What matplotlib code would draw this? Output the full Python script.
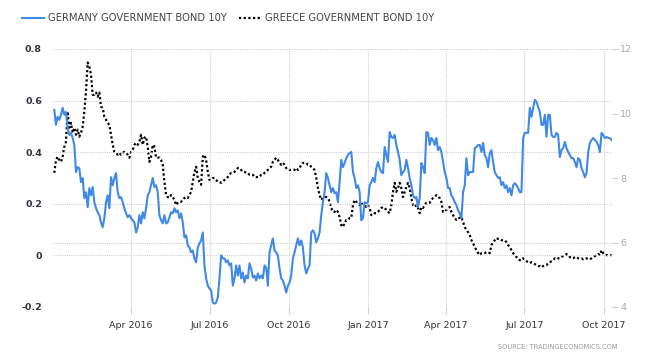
import matplotlib
matplotlib.use("Agg")
import matplotlib.pyplot as plt
from matplotlib.lines import Line2D
import pandas as pd

# ---------------- data ----------------
start_date = "2016-01-03"
end_date = "2017-10-10"

germany = [
    # Jan - Mar 2016
    0.564, 0.506, 0.537, 0.525, 0.545, 0.572, 0.545, 0.556, 0.494, 0.467,
    0.475, 0.455, 0.428, 0.323, 0.342, 0.338, 0.284, 0.300, 0.222, 0.245,
    0.187, 0.261, 0.233, 0.265, 0.206, 0.183, 0.167, 0.156, 0.128, 0.109,
    0.144, 0.206, 0.233, 0.183, 0.303, 0.272, 0.300, 0.319, 0.245, 0.222,
    0.226, 0.206, 0.183, 0.163, 0.148, 0.156, 0.144, 0.136, 0.128, 0.089,
    0.109, 0.156, 0.124, 0.167, 0.144, 0.183, 0.233, 0.245, 0.272, 0.300,
    0.265, 0.272, 0.245,
    # May - Sep 2016
    0.156, 0.136, 0.124, 0.156, 0.124, 0.128, 0.148, 0.167, 0.163, 0.183,
    0.167, 0.175, 0.144, 0.163, 0.128, 0.070, 0.078, 0.039, 0.031, 0.012,
    0.019, -0.012, -0.027, 0.031, 0.047, 0.058, 0.089, -0.039, -0.089, -0.117,
    -0.128, -0.136, -0.183, -0.187, -0.183, -0.163, -0.089, 0.000, -0.012, -0.012,
    -0.027, -0.019, -0.039, -0.031, -0.117, -0.089, -0.039, -0.078, -0.039, -0.089,
    -0.066, -0.105, -0.078, -0.089, -0.031, -0.051, -0.086, -0.078, -0.097, -0.070,
    -0.089, -0.078, -0.089, -0.039, -0.047, -0.117,
    # Sep 2016 - Jan 2017
    0.012, 0.039, 0.066, 0.019, 0.012, 0.000, -0.051, -0.089, -0.097, -0.117,
    -0.144, -0.117, -0.105, -0.078, -0.012, 0.012, 0.039, 0.066, 0.039, 0.058,
    0.031, -0.039, -0.070, -0.051, -0.039, 0.089, 0.097, 0.086, 0.051, 0.066,
    0.089, 0.156, 0.206, 0.245, 0.319, 0.300, 0.272, 0.245, 0.261, 0.241,
    0.245, 0.206, 0.284, 0.370, 0.342, 0.358, 0.377, 0.389, 0.397, 0.401,
    0.323, 0.300, 0.261, 0.272, 0.245, 0.136, 0.144, 0.206, 0.202, 0.206,
    0.272, 0.284, 0.300, 0.284, 0.338, 0.362,
    # Jan - Jun 2017
    0.338, 0.323, 0.319, 0.420, 0.389, 0.362, 0.478, 0.459, 0.455, 0.467,
    0.428, 0.401, 0.370, 0.311, 0.323, 0.331, 0.370, 0.338, 0.300, 0.272,
    0.233, 0.222, 0.226, 0.187, 0.222, 0.358, 0.342, 0.319, 0.478, 0.475,
    0.428, 0.455, 0.447, 0.428, 0.455, 0.408, 0.420, 0.401, 0.362, 0.323,
    0.300, 0.261, 0.261, 0.233, 0.222, 0.206, 0.195, 0.175, 0.163, 0.144,
    0.245, 0.272, 0.377, 0.311, 0.323, 0.323, 0.323, 0.416, 0.420, 0.428,
    0.428, 0.401, 0.436, 0.389, 0.377, 0.342,
    # Jun - Oct 2017
    0.397, 0.408, 0.362, 0.323, 0.311, 0.300, 0.303, 0.272, 0.284, 0.261,
    0.272, 0.245, 0.261, 0.233, 0.272, 0.280, 0.272, 0.261, 0.245, 0.245,
    0.455, 0.475, 0.475, 0.475, 0.572, 0.537, 0.572, 0.603, 0.595, 0.576,
    0.556, 0.506, 0.506, 0.545, 0.460, 0.545, 0.545, 0.467, 0.459, 0.459,
    0.475, 0.467, 0.381, 0.408, 0.416, 0.440, 0.416, 0.401, 0.389, 0.377,
    0.377, 0.362, 0.342, 0.377, 0.370, 0.338, 0.323, 0.303, 0.319, 0.401,
    0.436, 0.447, 0.455, 0.447, 0.440, 0.428, 0.401, 0.475, 0.467, 0.455,
    0.459, 0.455, 0.455, 0.447,
]

greece = [
    # Jan - Mar 2016
    8.16, 8.56, 8.66, 8.56, 8.50, 8.66, 8.97, 9.12, 10.06, 9.56,
    9.71, 9.40, 9.56, 9.34, 9.50, 9.28, 9.40, 9.59, 10.06, 10.68,
    11.58, 11.46, 11.21, 10.58, 10.58, 10.65, 10.52, 10.65, 10.21, 10.18,
    9.90, 9.81, 9.71, 9.65, 9.34, 9.03, 8.81, 8.78, 8.72, 8.78,
    8.72, 8.78, 8.81, 8.78, 8.72, 8.63, 8.81, 8.87, 9.03, 9.09,
    9.03, 9.12, 9.34, 9.03, 9.25, 9.28, 8.97, 8.50, 8.66, 9.03,
    8.97, 8.63, 8.63,
    # May - Sep 2016
    8.63, 8.56, 8.41, 7.88, 7.47, 7.41, 7.38, 7.47, 7.41, 7.32,
    7.16, 7.23, 7.26, 7.26, 7.32, 7.38, 7.41, 7.38, 7.47, 7.57,
    7.88, 8.19, 8.35, 8.00, 7.88, 7.79, 8.66, 8.72, 8.56, 8.19,
    7.94, 7.94, 8.00, 8.00, 7.94, 7.88, 7.88, 7.85, 7.88, 7.94,
    8.00, 8.03, 8.10, 8.16, 8.16, 8.19, 8.25, 8.31, 8.31, 8.25,
    8.19, 8.19, 8.16, 8.16, 8.10, 8.10, 8.10, 8.03, 8.03, 8.03,
    8.03, 8.10, 8.10, 8.16, 8.19, 8.25,
    # Sep 2016 - Jan 2017
    8.31, 8.35, 8.50, 8.56, 8.63, 8.56, 8.47, 8.41, 8.47, 8.41,
    8.31, 8.25, 8.25, 8.25, 8.25, 8.25, 8.31, 8.25, 8.31, 8.41,
    8.47, 8.47, 8.47, 8.41, 8.41, 8.35, 8.31, 8.25, 8.00, 7.69,
    7.47, 7.32, 7.38, 7.41, 7.41, 7.38, 7.26, 7.07, 6.95, 6.95,
    7.01, 6.95, 6.79, 6.54, 6.48, 6.60, 6.70, 6.70, 6.76, 6.76,
    7.16, 7.32, 7.26, 7.26, 7.16, 7.23, 7.16, 7.16, 7.10, 7.16,
    7.07, 6.85, 6.85, 6.91, 6.91, 6.95,
    # Jan - Jun 2017
    7.01, 7.07, 7.10, 7.07, 7.01, 6.95, 6.91, 7.16, 7.57, 7.85,
    7.57, 7.69, 7.85, 7.69, 7.41, 7.57, 7.72, 7.85, 7.69, 7.38,
    7.16, 7.10, 7.16, 7.07, 6.91, 7.10, 7.07, 7.16, 7.23, 7.23,
    7.23, 7.32, 7.38, 7.41, 7.47, 7.41, 7.38, 7.26, 6.95, 6.95,
    7.01, 7.07, 7.10, 6.95, 6.85, 6.76, 6.70, 6.76, 6.76, 6.79,
    6.63, 6.48, 6.39, 6.32, 6.23, 6.07, 5.98, 5.86, 5.76, 5.67,
    5.61, 5.67, 5.67, 5.67, 5.70, 5.70,
    # Jun - Oct 2017
    5.67, 5.92, 6.01, 6.07, 6.14, 6.11, 6.11, 6.07, 6.07, 6.07,
    6.01, 5.92, 5.86, 5.76, 5.67, 5.61, 5.55, 5.51, 5.45, 5.45,
    5.51, 5.45, 5.42, 5.39, 5.36, 5.39, 5.36, 5.33, 5.30, 5.27,
    5.27, 5.23, 5.27, 5.30, 5.30, 5.36, 5.39, 5.42, 5.45, 5.51,
    5.48, 5.51, 5.51, 5.55, 5.58, 5.61, 5.64, 5.61, 5.55, 5.51,
    5.51, 5.55, 5.55, 5.51, 5.51, 5.51, 5.48, 5.51, 5.51, 5.48,
    5.48, 5.51, 5.55, 5.58, 5.61, 5.64, 5.61, 5.76, 5.67, 5.61,
    5.61, 5.61, 5.61, 5.61,
]

series_labels = ["GERMANY GOVERNMENT BOND 10Y", "GREECE GOVERNMENT BOND 10Y"]
xtick_dates = ["2016-04-01", "2016-07-01", "2016-10-01", "2017-01-01",
               "2017-04-01", "2017-07-01", "2017-10-01"]
xtick_labels = ["Apr 2016", "Jul 2016", "Oct 2016", "Jan 2017",
                "Apr 2017", "Jul 2017", "Oct 2017"]
left_ticks = [-0.2, 0, 0.2, 0.4, 0.6, 0.8]
left_tick_labels = ["-0.2", "0", "0.2", "0.4", "0.6", "0.8"]
right_ticks = [4, 6, 8, 10, 12]
right_tick_labels = ["4", "6", "8", "10", "12"]
source_text = "SOURCE: TRADINGECONOMICS.COM"

# ---------------- figure ----------------
n = min(len(germany), len(greece))
dates = pd.date_range(start_date, end_date, periods=n)

BLUE = "#4189E6"
GRID = "#d0d0d0"

fig = plt.figure(figsize=(6.6, 3.61), dpi=100)
ax1 = fig.add_axes([53 / 660, 1 - 307 / 361, (612 - 53) / 660, (307 - 49) / 361])
ax2 = ax1.twinx()

ax1.plot(dates, germany[:n], color=BLUE, lw=1.5, solid_joinstyle="round", zorder=3)
ax2.plot(dates, greece[:n], color="black", lw=1.6, linestyle=(0, (1, 1.1)), zorder=3)

ax1.set_zorder(ax2.get_zorder() + 1)
ax1.patch.set_visible(False)

ax1.set_ylim(-0.2, 0.8)
ax2.set_ylim(4, 12)
ax1.set_xlim(dates[0] - pd.Timedelta(days=1.5), dates[-1] + pd.Timedelta(days=0.5))

ax1.set_xticks(pd.to_datetime(xtick_dates))
ax1.set_xticklabels(xtick_labels)
ax1.set_yticks(left_ticks)
ax1.set_yticklabels(left_tick_labels)
ax2.set_yticks(right_ticks)
ax2.set_yticklabels(right_tick_labels)

for ax in (ax1, ax2):
    for s in ax.spines.values():
        s.set_visible(False)

ax1.grid(True, color=GRID, linestyle=(0, (1, 1)), lw=0.8)
ax2.grid(False)
ax2.axhline(6, color=GRID, linestyle=(0, (1, 1)), lw=0.8, zorder=0)

ax1.tick_params(axis="x", length=5, color=GRID, pad=5, labelsize=6.8, labelcolor="#333333")
ax1.tick_params(axis="y", length=0, pad=8, labelsize=6.8, labelcolor="#333344")
ax2.tick_params(axis="y", length=4, color=GRID, pad=2, labelsize=6.8, labelcolor="#aaaaaa")
for lbl in ax1.get_yticklabels():
    lbl.set_fontweight("bold")

handles = [Line2D([], [], color=BLUE, lw=1.5),
           Line2D([], [], color="black", lw=1.6, linestyle=(0, (1, 1.1)))]
leg = fig.legend(handles, series_labels, loc="upper left", bbox_to_anchor=(22 / 660, 1 - 13 / 361),
                 ncol=2, frameon=False, fontsize=7.2, handlelength=2.2, handletextpad=0.4,
                 columnspacing=1.2, borderpad=0, borderaxespad=0)
for t in leg.get_texts():
    t.set_color("#444444")

fig.text(617 / 660, 1 - 347 / 361, source_text, ha="right", va="center", fontsize=4.8, color="#999999")

fig.savefig("out.png", dpi=100)
